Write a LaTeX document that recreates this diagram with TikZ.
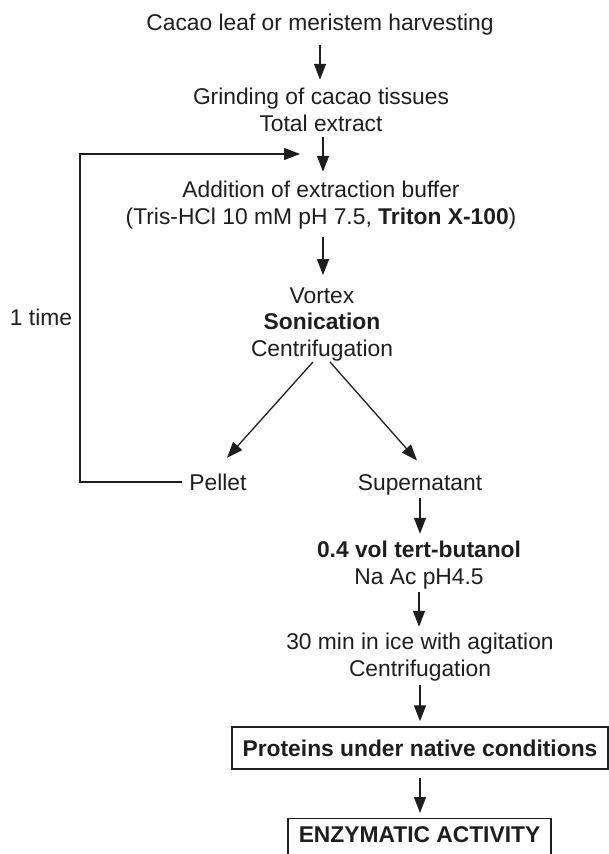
\documentclass[tikz,border=0pt]{standalone}
\usepackage{fontspec}
\setmainfont{Liberation Sans}
\usetikzlibrary{arrows.meta}
\definecolor{ink}{RGB}{30,30,30}
\begin{document}
\begin{tikzpicture}[x=1pt,y=-1pt,
  txt/.style={inner sep=0pt, align=center, text=ink,
    font=\fontsize{22.8}{26.5}\selectfont},
  arr/.style={draw=ink, line width=1.3pt, -{Triangle[length=16pt,width=12pt]}},
  boxed/.style={txt, draw=ink, line width=1.4pt, font=\fontsize{22.8}{26.5}\selectfont\bfseries}]
\useasboundingbox (0,0) rectangle (609,854);

% protocol steps (multi-line nodes sit on the baseline of their last line)
\node[txt, anchor=base] (harvest) at (320,30) {Cacao leaf or meristem harvesting};
\node[txt, anchor=base] (grind) at (321,131) {Grinding of cacao tissues\\Total extract};
\node[txt, anchor=base] (buffer) at (321,224) {Addition of extraction buffer\\(Tris-HCl 10 mM pH 7.5, \textbf{Triton X-100})};
\node[txt, anchor=base] (spin) at (322,356) {Vortex\\\textbf{Sonication}\\Centrifugation};
\node[txt, anchor=base] (pellet) at (218,490) {Pellet};
\node[txt, anchor=base] (super) at (420,490) {Supernatant};
\node[txt, anchor=base] (times) at (41,325) {1 time};
\node[txt, anchor=base] (butanol) at (419,584) {\textbf{0.4 vol tert-butanol}\\Na Ac pH4.5};
\node[txt, anchor=base] (ice) at (420,676) {30 min in ice with agitation\\Centrifugation};
\node[boxed, minimum width=376pt, minimum height=42pt, text height=16.4pt, text depth=0pt]
  (native) at (420,748) {Proteins under native conditions};
\node[boxed, anchor=north, minimum width=263pt, inner xsep=0pt, inner ysep=7pt,
  text height=16.4pt, text depth=12pt] (enzyme) at (419.5,818) {ENZYMATIC ACTIVITY};

% points used by the re-extraction loop
\coordinate (loopx) at (80,0);
\coordinate (rejoin) at (300,154);

% main flow
\draw[arr, shorten <=10pt, shorten >=8pt] (harvest.south) -- (harvest.south |- grind.north);
\draw[arr, shorten <=6pt, shorten >=9pt] ([xshift=2pt]grind.south) -- ([xshift=2pt]grind.south |- buffer.north);
\draw[arr, shorten <=8pt, shorten >=12pt] ([xshift=2pt]buffer.south) -- ([xshift=2pt]buffer.south |- spin.north);
\draw[arr] ([xshift=-9pt,yshift=-1pt]spin.south) -- ([xshift=9pt,yshift=15.4pt]pellet.north);
\draw[arr] ([xshift=8pt,yshift=-1pt]spin.south) -- ([xshift=-3pt,yshift=13.4pt]super.north);
\draw[arr, shorten <=3pt, shorten >=7pt] (super.south) -- (super.south |- butanol.north);
\draw[arr, shorten <=3pt, shorten >=6pt] (butanol.south) -- (butanol.south |- ice.north);
\draw[arr, shorten <=4pt, shorten >=5pt] (ice.south) -- (ice.south |- native.north);
\draw[arr, shorten <=8pt, shorten >=5pt] (native.south) -- (native.south |- enzyme.north);

% pellet goes back to the extraction step once
\draw[arr, shorten <=7pt] (pellet.west) -- (loopx |- pellet.west) |- (rejoin);
\end{tikzpicture}
\end{document}
